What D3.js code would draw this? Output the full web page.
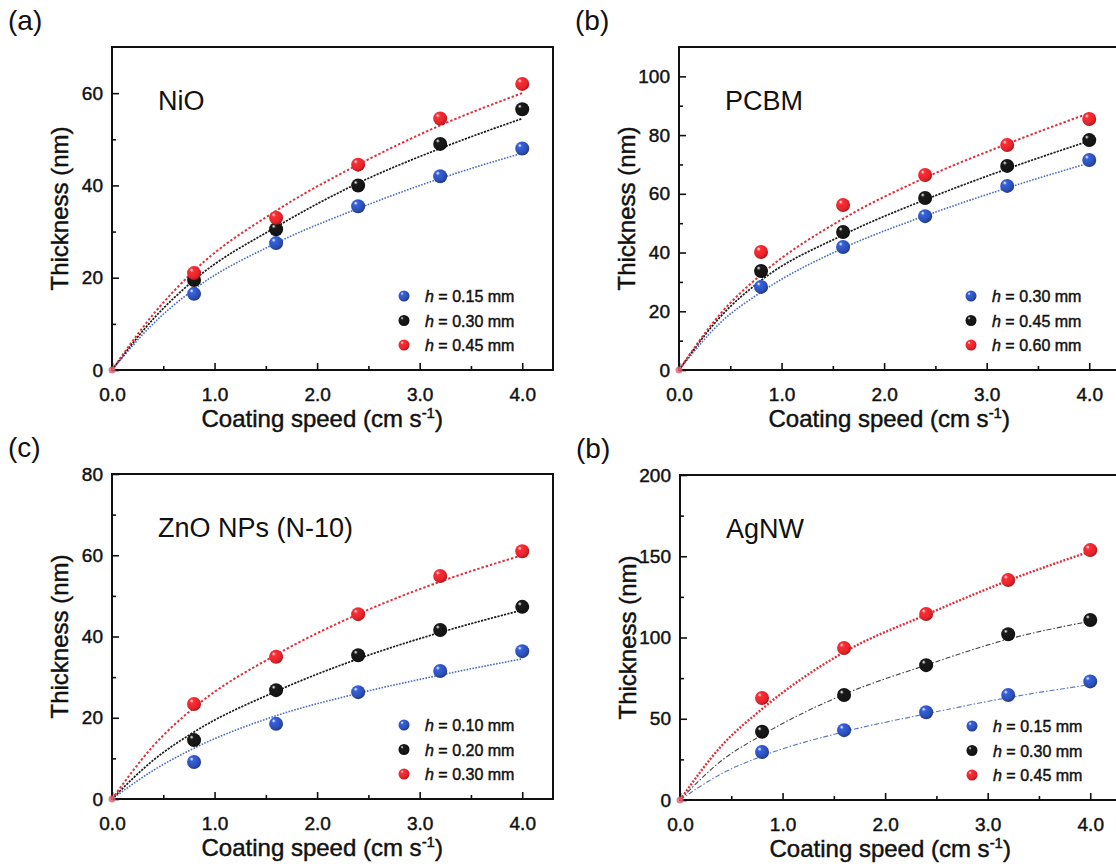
<!DOCTYPE html>
<html>
<head>
<meta charset="utf-8">
<script src="https://cdn.jsdelivr.net/npm/d3@7"></script>
<style>
  body { margin: 0; background: #fff; }
  svg { display: block; font-family: "Liberation Sans", Arial, sans-serif; }
  .heavy { stroke: #111; stroke-width: 0.45px; }
</style>
</head>
<body>
<svg id="svg"></svg>
<script>
const svg = d3.select("#svg")
    .attr("width", 1116)
    .attr("height", 868)

// data
const speeds = [0.8, 1.6, 2.4, 3.2, 4.0]
const fitSpeeds = [0, 0.4, 0.8, 1.6, 2.4, 3.2, 4.0]
const xTicks = [0, 1, 2, 3, 4]
const xMinor = [0.5, 1.5, 2.5, 3.5]

// (a) NiO
const nioGaps = ["0.15", "0.30", "0.45"]
const nioBlue = [16.5, 27.5, 35.5, 42, 48]
const nioBlack = [19.5, 30.5, 40, 49, 56.5]
const nioRed = [21, 33, 44.5, 54.5, 62]
const nioFitBlue = [0, 10, 17.5, 27.5, 35, 41.5, 47]
const nioFitBlack = [0, 11, 19.5, 31, 40.5, 48, 54.5]
const nioFitRed = [0, 12, 21.5, 34.5, 44.5, 53, 60]

// (b) PCBM
const pcbmGaps = ["0.30", "0.45", "0.60"]
const pcbmBlue = [28.3, 41.9, 52.4, 62.7, 71.5]
const pcbmBlack = [33.7, 47, 58.6, 69.5, 78.3]
const pcbmRed = [40.2, 56.2, 66.4, 76.6, 85.5]
const pcbmFitBlue = [0, 16, 26.5, 41.5, 52.5, 62, 70.5]
const pcbmFitBlack = [0, 18, 30.5, 46, 58, 68.5, 78]
const pcbmFitRed = [0, 19, 32.5, 51.5, 65.5, 77, 87.5]

// (c) ZnO NPs
const znoGaps = ["0.10", "0.20", "0.30"]
const znoBlue = [9.1, 18.5, 26.3, 31.5, 36.4]
const znoBlack = [14.5, 26.8, 35.4, 41.6, 47.3]
const znoRed = [23.4, 35, 45.5, 54.9, 61]
const znoFitBlue = [0, 7, 12.5, 20.5, 26, 30.5, 34.5]
const znoFitBlack = [0, 9.5, 16.5, 26.5, 34.5, 41, 46.5]
const znoFitRed = [0, 13, 22.5, 35.5, 45.5, 53.5, 60]

// (d) AgNW
const agnwGaps = ["0.15", "0.30", "0.45"]
const agnwBlue = [29.5, 43, 54, 64.6, 73]
const agnwBlack = [42, 64.6, 83, 102, 110.8]
const agnwRed = [62.8, 93.5, 114.5, 135.4, 153.8]
const agnwFitBlue = [0, 16, 27, 42, 53, 63, 71]
const agnwFitBlack = [0, 24, 40, 65, 83, 99, 110]
const agnwFitRed = [0, 33, 56, 91, 114, 135, 153]

const colors = { blue: "#2c4fb4", black: "#151515", red: "#e3242b" }

const panels = [
    { tag: "(a)", name: "NiO", left: 112, top: 47, bottom: 370, yMax: 70, yStep: 20, yMinorStep: 10,
      gaps: nioGaps, pts: [nioBlue, nioBlack, nioRed], fits: [nioFitBlue, nioFitBlack, nioFitRed], dashDot: false },
    { tag: "(b)", name: "PCBM", left: 679, top: 47, bottom: 370, yMax: 110, yStep: 20, yMinorStep: 10,
      gaps: pcbmGaps, pts: [pcbmBlue, pcbmBlack, pcbmRed], fits: [pcbmFitBlue, pcbmFitBlack, pcbmFitRed], dashDot: false },
    { tag: "(c)", name: "ZnO NPs (N-10)", left: 112, top: 474, bottom: 799, yMax: 80, yStep: 20, yMinorStep: 10,
      gaps: znoGaps, pts: [znoBlue, znoBlack, znoRed], fits: [znoFitBlue, znoFitBlack, znoFitRed], dashDot: false },
    { tag: "(b)", name: "AgNW", left: 680, top: 475, bottom: 800, yMax: 200, yStep: 50, yMinorStep: 25,
      gaps: agnwGaps, pts: [agnwBlue, agnwBlack, agnwRed], fits: [agnwFitBlue, agnwFitBlack, agnwFitRed], dashDot: true }
]

// shaded sphere gradients
const defs = svg.append("defs")
Object.entries(colors).forEach(([key, c]) => {
    const g = defs.append("radialGradient")
        .attr("id", "ball-" + key)
        .attr("cx", "38%").attr("cy", "35%").attr("r", "65%")
        .attr("fx", "32%").attr("fy", "28%")
    g.append("stop").attr("offset", "0%").attr("stop-color", "#ffffff")
    g.append("stop").attr("offset", "22%").attr("stop-color", d3.color(c).brighter(0.6))
    g.append("stop").attr("offset", "75%").attr("stop-color", c)
    g.append("stop").attr("offset", "100%").attr("stop-color", d3.color(c).darker(0.8))
})

const seriesKeys = ["blue", "black", "red"]

panels.forEach(p => {
    const width = 441
    const x = d3.scaleLinear().domain([0, 4.3]).range([p.left, p.left + width])
    const y = d3.scaleLinear().domain([0, p.yMax]).range([p.bottom, p.top])
    const g = svg.append("g")

    // frame
    g.append("rect")
        .attr("x", p.left).attr("y", p.top)
        .attr("width", width).attr("height", p.bottom - p.top)
        .attr("fill", "none").attr("stroke", "#111").attr("stroke-width", 2)

    // axes, ticks pointing inward
    g.append("g")
        .attr("transform", `translate(0,${p.bottom})`)
        .call(d3.axisBottom(x).tickValues(xTicks).tickFormat(d3.format(".1f"))
            .tickSizeInner(-7).tickSizeOuter(0).tickPadding(18))
    g.append("g")
        .attr("transform", `translate(0,${p.bottom})`)
        .call(d3.axisBottom(x).tickValues(xMinor).tickFormat("").tickSizeInner(-4).tickSizeOuter(0))

    const yMajor = d3.range(0, p.yMax + 0.001, p.yStep)
    const yMinor = d3.range(p.yMinorStep, p.yMax, p.yMinorStep).filter(v => v % p.yStep !== 0)
    g.append("g")
        .attr("transform", `translate(${p.left},0)`)
        .call(d3.axisLeft(y).tickValues(yMajor).tickFormat(d3.format("d"))
            .tickSizeInner(-7).tickSizeOuter(0).tickPadding(9))
    g.append("g")
        .attr("transform", `translate(${p.left},0)`)
        .call(d3.axisLeft(y).tickValues(yMinor).tickFormat("").tickSizeInner(-4).tickSizeOuter(0))

    g.selectAll(".domain").remove()
    g.selectAll(".tick line").attr("stroke", "#111").attr("stroke-width", 1.6)
    g.selectAll(".tick text")
        .attr("fill", "#111")
        .attr("class", "heavy")
        .style("font-size", "19px")
        .style("font-family", "'Liberation Sans', Arial, sans-serif")

    // axis titles
    const xt = g.append("text")
        .attr("class", "heavy")
        .attr("x", x(2.05)).attr("y", p.bottom + 57)
        .attr("text-anchor", "middle")
        .style("font-size", "24px")
        .attr("fill", "#111")
    xt.append("tspan").text("Coating speed (cm s")
    xt.append("tspan").attr("dy", -9).style("font-size", "15px").text("-1")
    xt.append("tspan").attr("dy", 9).text(")")

    g.append("text")
        .attr("class", "heavy")
        .attr("transform", `translate(${p.left - 44},${(p.top + p.bottom) / 2}) rotate(-90)`)
        .attr("text-anchor", "middle")
        .style("font-size", "24px")
        .attr("fill", "#111")
        .text("Thickness (nm)")

    // panel tag and material
    g.append("text")
        .attr("x", p.left - 104).attr("y", p.top - 17)
        .style("font-size", "28px").attr("fill", "#111")
        .text(p.tag)
    g.append("text")
        .attr("x", p.left + 46).attr("y", p.top + 63)
        .style("font-size", "27px").attr("fill", "#111")
        .text(p.name)

    // fitted curves
    const line = d3.line()
        .x((d, i) => x(fitSpeeds[i]))
        .y(d => y(d))
        .curve(d3.curveMonotoneX)

    const fitStyles = p.dashDot
        ? [{ c: "#5a78c4", w: 1.1, dash: "5,2,1.5,2" }, { c: "#444", w: 1.1, dash: "5,2,1.5,2" }, { c: "#e0303a", w: 2.4, dash: "2,1.6" }]
        : [{ c: "#4a6cc2", w: 1.6, dash: "1.6,1.4" }, { c: "#1a1a1a", w: 1.7, dash: "2.2,1.2" }, { c: "#e0303a", w: 2, dash: "2.4,2" }]

    p.fits.forEach((fit, i) => {
        g.append("path")
            .datum(fit)
            .attr("d", line)
            .attr("fill", "none")
            .attr("stroke", fitStyles[i].c)
            .attr("stroke-width", fitStyles[i].w)
            .attr("stroke-dasharray", fitStyles[i].dash)
    })

    // data points
    p.pts.forEach((vals, i) => {
        g.selectAll(null)
            .data(vals)
            .join("circle")
            .attr("cx", (d, j) => x(speeds[j]))
            .attr("cy", d => y(d))
            .attr("r", 7)
            .attr("fill", `url(#ball-${seriesKeys[i]})`)
    })

    // origin point
    g.append("circle")
        .attr("cx", x(0)).attr("cy", y(0)).attr("r", 3.5)
        .attr("fill", "#e06070").attr("opacity", 0.8)

    // legend
    p.gaps.forEach((gap, i) => {
        const ly = p.bottom - 74 + i * 24.5
        g.append("circle")
            .attr("cx", p.left + 292).attr("cy", ly).attr("r", 5.5)
            .attr("fill", `url(#ball-${seriesKeys[i]})`)
        const t = g.append("text")
            .attr("class", "heavy")
            .attr("x", p.left + 313).attr("y", ly + 6)
            .style("font-size", "16px").attr("fill", "#111")
        t.append("tspan").style("font-style", "italic").text("h")
        t.append("tspan").text(" = " + gap + " mm")
    })
})
</script>
</body>
</html>
